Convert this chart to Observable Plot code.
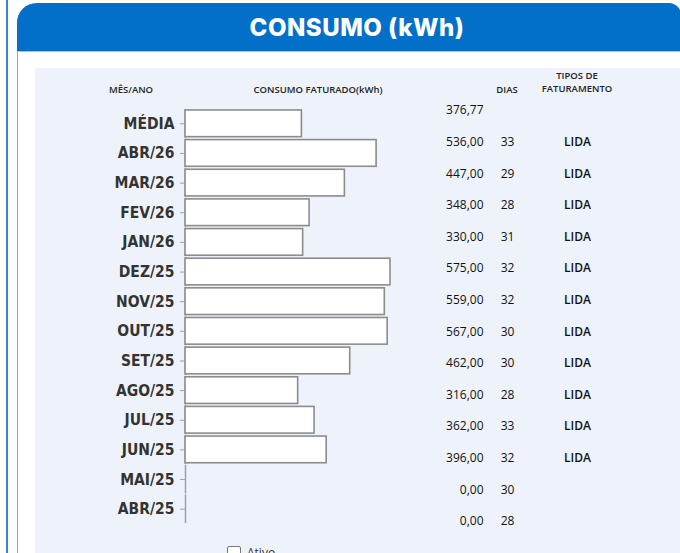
<!DOCTYPE html>
<html>
<head>
<meta charset="utf-8">
<script src="https://cdn.jsdelivr.net/npm/d3@7"></script>
<script src="https://cdn.jsdelivr.net/npm/@observablehq/plot@0.6"></script>
<style>
  html, body { margin: 0; padding: 0; }
  body { width: 680px; height: 553px; overflow: hidden; background: #ffffff; position: relative; font-family: "Open Sans", sans-serif; }
  .vline { position: absolute; left: 6px; top: 0; width: 2px; height: 553px; background: #3585d6; }
  .panel { position: absolute; left: 17px; top: 3px; width: 680px; height: 600px; border-left: 1.5px solid #86a9cc; border-top-left-radius: 20px; background: #fff; overflow: hidden; }
  .header { position: absolute; left: 17px; top: 3px; width: 664px; height: 49px; background: #0270c9; border-top-left-radius: 20px; border-top-right-radius: 12px; border-bottom: 1px solid #9cc4ea; box-sizing: border-box; }
  .title { position: absolute; left: 17px; top: 4px; width: 680px; height: 49px; font: 800 24px Inter, sans-serif; line-height: 48px; text-align: center; color: #fff; letter-spacing: 0.5px; }
  .inner { position: absolute; left: 35px; top: 68px; width: 660px; height: 500px; background: #eef3fb; }
  .hdr { position: absolute; font: 600 9.5px "Open Sans", sans-serif; color: #222; transform: translate(-50%, -50%); white-space: nowrap; }
  #chart, #table { position: absolute; left: 35px; top: 68px; line-height: 0; }
  #chart svg, #table svg { display: block; }
  #table { pointer-events: none; }
  #chart g[aria-label="y-axis tick label"] text { font: bold 15.5px "DejaVu Sans Condensed", "DejaVu Sans", sans-serif; fill: #333; }
  .ativo { position: absolute; left: 227px; top: 544px; font: 12px "Open Sans", sans-serif; color: #333; display: flex; align-items: center; gap: 6px; }
  .ativo span.box { width: 12px; height: 12px; border: 1.5px solid #777; border-radius: 2px; background: #fff; display: inline-block; }
</style>
</head>
<body>
<div class="vline"></div>
<div class="panel"></div>
<div class="header"></div>
<div class="title">CONSUMO (kWh)</div>
<div class="inner"></div>
<div class="hdr" style="left:131px;top:89px">MÊS/ANO</div>
<div class="hdr" style="left:318px;top:89px">CONSUMO FATURADO(kWh)</div>
<div class="hdr" style="left:507px;top:89px">DIAS</div>
<div class="hdr" style="left:577px;top:75px">TIPOS DE</div>
<div class="hdr" style="left:577px;top:88px">FATURAMENTO</div>
<div id="chart"></div>
<div id="table"></div>
<div class="ativo"><span class="box"></span><span>Ativo</span></div>
<script>
const meses = ["MÉDIA","ABR/26","MAR/26","FEV/26","JAN/26","DEZ/25","NOV/25","OUT/25","SET/25","AGO/25","JUL/25","JUN/25","MAI/25","ABR/25"];
// bar lengths as drawn in the picture (the MÉDIA bar is drawn shorter than its label)
const consumoBarra = [326.5, 536, 447, 348, 330, 575, 559, 567, 462, 316, 362, 396, 0, 0];
const consumoTexto = ["376,77","536,00","447,00","348,00","330,00","575,00","559,00","567,00","462,00","316,00","362,00","396,00","0,00","0,00"];
const dias = ["", "33", "29", "28", "31", "32", "32", "30", "30", "28", "33", "32", "30", "28"];
const tipos = ["", "LIDA","LIDA","LIDA","LIDA","LIDA","LIDA","LIDA","LIDA","LIDA","LIDA","LIDA", "", ""];

const rows = meses.map((m, i) => ({mes: m, valor: consumoBarra[i], texto: consumoTexto[i], dias: dias[i], tipo: tipos[i]}));

const W = 645, H = 485;

const chart = Plot.plot({
  width: W, height: H,
  marginLeft: 150, marginRight: 290, marginTop: 0, marginBottom: 0,
  style: {background: "transparent", overflow: "visible"},
  x: {domain: [0, 575], axis: null},
  y: {type: "band", domain: meses, range: [39, 457], padding: 0.1, round: false, label: null},
  marks: [
    Plot.tickX(rows, {x: 0, y: "mes", stroke: "#a0a0a0", strokeWidth: 1.5, insetTop: -1, insetBottom: -1}),
    Plot.axisY({tickSize: 5, tickPadding: 6, stroke: "#a0a0a0", label: null}),
    Plot.barX(rows.filter(d => d.valor > 0), {x: "valor", y: "mes", fill: "#ffffff", stroke: "#8c8c8c", strokeWidth: 1.6})
  ]
});
document.getElementById("chart").append(chart);

const table = Plot.plot({
  width: W, height: H,
  margin: 0,
  style: {background: "transparent", overflow: "visible"},
  y: {type: "point", domain: meses, range: [42, 453], padding: 0, round: false, axis: null},
  marks: [
    Plot.text(rows, {y: "mes", text: "texto", frameAnchor: "left", dx: 448, textAnchor: "end", fontFamily: "Open Sans", fontSize: 12, fontWeight: 500, fill: "#111"}),
    Plot.text(rows, {y: "mes", text: "dias", frameAnchor: "left", dx: 472, textAnchor: "middle", fontFamily: "Open Sans", fontSize: 12, fontWeight: 500, fill: "#111"}),
    Plot.text(rows, {y: "mes", text: "tipo", frameAnchor: "left", dx: 542, textAnchor: "middle", fontFamily: "Open Sans", fontSize: 12, fontWeight: 600, fill: "#111"})
  ]
});
document.getElementById("table").append(table);
</script>
</body>
</html>
